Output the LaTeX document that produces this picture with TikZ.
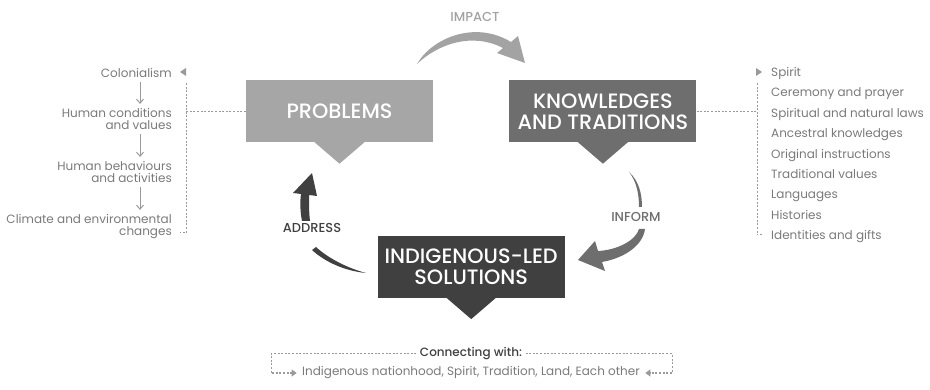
\documentclass[tikz,border=0pt]{standalone}
\usepackage{fontspec}
\setmainfont{Poppins}
\newfontfamily\headfont{Poppins Medium}
\usetikzlibrary{arrows.meta,positioning,calc}

\definecolor{probgray}{HTML}{A6A6A6}
\definecolor{knowgray}{HTML}{6E6E6E}
\definecolor{solgray}{HTML}{404040}
\definecolor{impactgray}{HTML}{A3A3A3}
\definecolor{listgray}{HTML}{7A7A7A}
\definecolor{dotgray}{HTML}{9A9A9A}

\tikzset{
  panel/.style={fill=#1, text=white, minimum width=187pt, minimum height=62pt,
    inner sep=0pt, align=center, font=\headfont\fontsize{20.8}{21}\selectfont},
  cyclelabel/.style={text=#1, inner sep=1pt, font=\headfont\fontsize{13}{13}\selectfont},
  listitem/.style={text=listgray, inner sep=1pt, font=\fontsize{12}{12.5}\selectfont},
  dotline/.style={dotgray, line width=1pt, dash pattern=on 2pt off 1.6pt},
  stepdown/.style={-{Straight Barb[length=4pt,width=7pt]}, dotgray, line width=1pt},
}

\begin{document}
\begin{tikzpicture}[x=1pt,y=-1pt]
\useasboundingbox (0,0) rectangle (930,390);

% the three panels
\node[panel=probgray] (prob) at (339.5,111.5) {PROBLEMS};
\node[panel=knowgray, right=76pt of prob] (know) {KNOWLEDGES\\AND TRADITIONS};
\coordinate (mid) at ($(prob.south)!.5!(know.south)$);
\node[panel=solgray, below=93pt of mid] (sol) {INDIGENOUS-LED\\SOLUTIONS};
\foreach \b/\c in {prob/probgray, know/knowgray, sol/solgray}
  \fill[\c] ($(\b.south)+(-25,-0.5)$) -- ($(\b.south)+(25,-0.5)$) -- ($(\b.south)+(0,21)$) -- cycle;

% cycle arrows
\fill[impactgray] (417,64) .. controls (432,38) and (475,20) .. (511,42) -- (518,36) -- (525,63)
  -- (497,53) -- (503,48) .. controls (472,32) and (438,44) .. (417,64) -- cycle;
\node[cyclelabel=impactgray] (impact) at (475,17) {IMPACT};

\fill[knowgray] (629,172) .. controls (637,182) and (639,195) .. (639,207) -- (642,207)
  .. controls (642,194) and (639,181) .. (629,172) -- cycle;
\fill[knowgray] (645,229) .. controls (643,245) and (625,258) .. (602,262) -- (605,271) -- (578,260)
  -- (595,241) -- (598,251) .. controls (618,250) and (636,240) .. (639,229) -- cycle;
\node[cyclelabel=knowgray] (inform) at (636,217) {INFORM};

\fill[solgray] (366,273) .. controls (345,271) and (325,262) .. (312,250) -- (316,247)
  .. controls (328,258) and (347,268) .. (366,273) -- cycle;
\fill[solgray] (302,221) .. controls (300,211) and (300,201) .. (301,194) -- (293,193) -- (312,173)
  -- (317,196) -- (309,195) .. controls (309,204) and (309,213) .. (310,221) -- cycle;
\node[cyclelabel=solgray] (address) at (312,228) {ADDRESS};

% problems list
\node[listitem, anchor=east] (colon) at (173,73) {Colonialism};
\node[listitem, anchor=east, align=right] (cond) at (173,119) {Human conditions\\and values};
\node[listitem, anchor=east, align=right] (behav) at (173,172) {Human behaviours\\and activities};
\node[listitem, anchor=east, align=right] (clim) at (173,226.5) {Climate and environmental\\changes};
\coordinate (steps) at (140,0);
\foreach \a/\b in {colon/cond, cond/behav, behav/clim}
  \draw[stepdown] ([yshift=-3pt]\a.south -| steps) -- ([yshift=3pt]\b.north -| steps);
\draw[dotline] (prob.west) -- ++(-60,0);
\draw[dotline] (186,83) -- (186,233) -- (180,233);
\fill[dotgray] (186,68) -- (180,72) -- (186,76) -- cycle;

% knowledges list
\foreach \t [count=\i] in {Spirit, Ceremony and prayer, Spiritual and natural laws,
    Ancestral knowledges, Original instructions, Traditional values, Languages,
    Histories, Identities and gifts}
  \node[listitem, anchor=base west] (know\i) at (770,{76.5+20.4*(\i-1)}) {\t};
\draw[dotline] (know.east) -- ++(60,0);
\draw[dotline] (757,83) -- (757,235) -- (763,235);
\fill[dotgray] (756,68) -- (762,72) -- (756,76) -- cycle;

% connecting with
\node[text=solgray, font=\headfont\fontsize{12}{12}\selectfont] (conn) at (471,354) {Connecting with:};
\node[text=listgray, font=\fontsize{12}{12}\selectfont] (each) at (471,373)
  {Indigenous nationhood, Spirit, Tradition, Land, Each other};
\draw[dotline, -{Triangle[length=5pt,width=7pt]}] (conn.west) -- (271,354) |- ([xshift=-2pt]each.west);
\draw[dotline, -{Triangle[length=5pt,width=7pt]}] (conn.east) -- (672,354) |- ([xshift=2pt]each.east);
\end{tikzpicture}
\end{document}
